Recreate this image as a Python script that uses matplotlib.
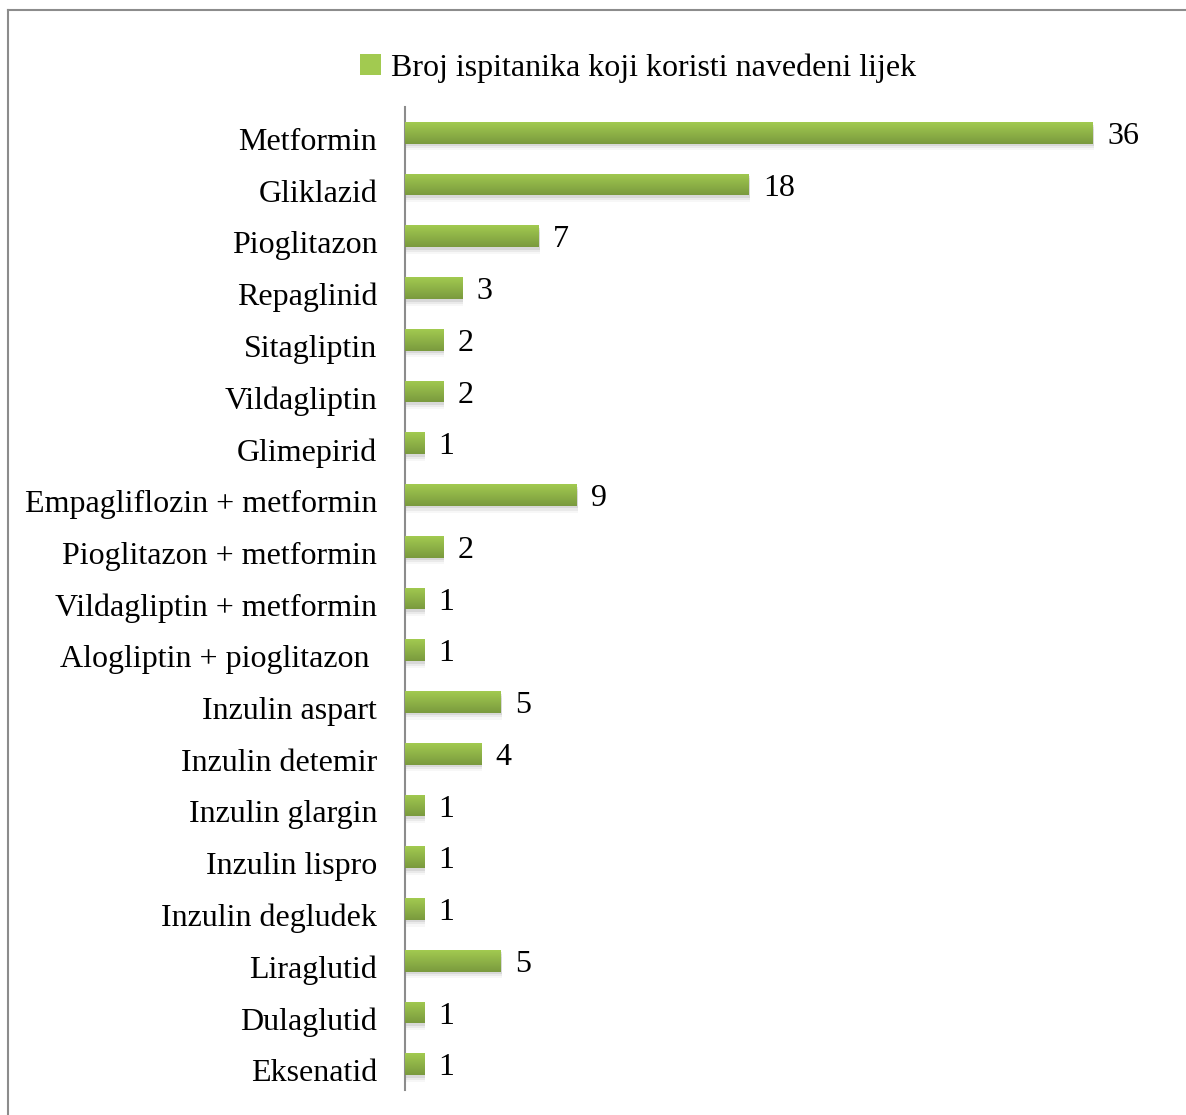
import matplotlib
matplotlib.use("Agg")
import matplotlib.pyplot as plt
from matplotlib.lines import Line2D
from matplotlib.patches import Rectangle
from matplotlib.transforms import ScaledTranslation
import numpy as np

# ── Data ──────────────────────────────────────────────────────────────────────
drugs = [
    "Metformin", "Gliklazid", "Pioglitazon", "Repaglinid", "Sitagliptin",
    "Vildagliptin", "Glimepirid", "Empagliflozin + metformin",
    "Pioglitazon + metformin", "Vildagliptin + metformin",
    "Alogliptin + pioglitazon ", "Inzulin aspart", "Inzulin detemir",
    "Inzulin glargin", "Inzulin lispro", "Inzulin degludek", "Liraglutid",
    "Dulaglutid", "Eksenatid",
]
counts = [36, 18, 7, 3, 2, 2, 1, 9, 2, 1, 1, 5, 4, 1, 1, 1, 5, 1, 1]
series_name = "Broj ispitanika koji koristi navedeni lijek"

TOP = "#A2CA50"
BOTTOM = "#7A9A3E"
FONT = "Liberation Serif"
FS = 23

W, H = 1186, 1115
fig = plt.figure(figsize=(W / 100, H / 100), dpi=100)
fig.patch.set_facecolor("white")

# axes placed in pixel terms
x0, x1 = 405, 1165
y0, y1 = 107, 1090
ax = fig.add_axes([x0 / W, 1 - y1 / H, (x1 - x0) / W, (y1 - y0) / H])

n = len(drugs)
pos = np.arange(n)
bar_h = 0.42
xmax = 36 * (x1 - x0) / (1093 - x0)

grad = np.linspace(0, 1, 64).reshape(-1, 1)
cmap = matplotlib.colors.LinearSegmentedColormap.from_list("g", [TOP, BOTTOM])

# soft shadow under bars
for off, a in [(0.05, 0.08), (0.09, 0.05), (0.13, 0.03)]:
    ax.barh(pos + off, counts, height=bar_h, left=0.05, color="#000000",
            alpha=a, edgecolor="none", zorder=1)
bars = ax.barh(pos, counts, height=bar_h, color=BOTTOM, edgecolor="none", zorder=2)
for b in bars:
    bx, by = b.get_x(), b.get_y()
    bw, bh = b.get_width(), b.get_height()
    im = ax.imshow(grad, cmap=cmap, aspect="auto", zorder=3,
                   extent=[bx, bx + bw, by + bh, by], interpolation="bilinear")
    im.set_clip_path(b)

for p, v in zip(pos, counts):
    ax.text(v + 0.75, p + 0.07, str(v), ha="left", va="center",
            fontsize=FS, family=FONT, color="black")

ax.set_xlim(0, xmax)
ax.set_ylim(n - 0.5, -0.5)
ax.set_yticks(pos)
ax.set_yticklabels(drugs, fontsize=FS, family=FONT)
ax.tick_params(axis="y", length=0, pad=20)
shift = ScaledTranslation(0, -6 / 100, fig.dpi_scale_trans)
for lab in ax.get_yticklabels():
    lab.set_transform(lab.get_transform() + shift)
ax.set_xticks([])
for s in ["top", "right", "bottom"]:
    ax.spines[s].set_visible(False)
ax.spines["left"].set_color("#8C8C8C")
ax.spines["left"].set_linewidth(1.5)
ax.set_facecolor("none")

# legend
handle = Rectangle((0, 0), 1, 1, facecolor=TOP, edgecolor="none")
fig.legend([handle], [series_name], loc="center", bbox_to_anchor=(638 / W, 1 - 68 / H),
           frameon=False, prop={"family": FONT, "size": FS},
           handlelength=0.65, handleheight=0.65, handletextpad=0.3)

# outer chart frame
fig.add_artist(Line2D([8 / W, 1], [1 - 10 / H, 1 - 10 / H], color="#8C8C8C", lw=1.5))
fig.add_artist(Line2D([8 / W, 8 / W], [0, 1 - 10 / H], color="#8C8C8C", lw=1.5))

fig.savefig("out.png", dpi=100, facecolor="white")
